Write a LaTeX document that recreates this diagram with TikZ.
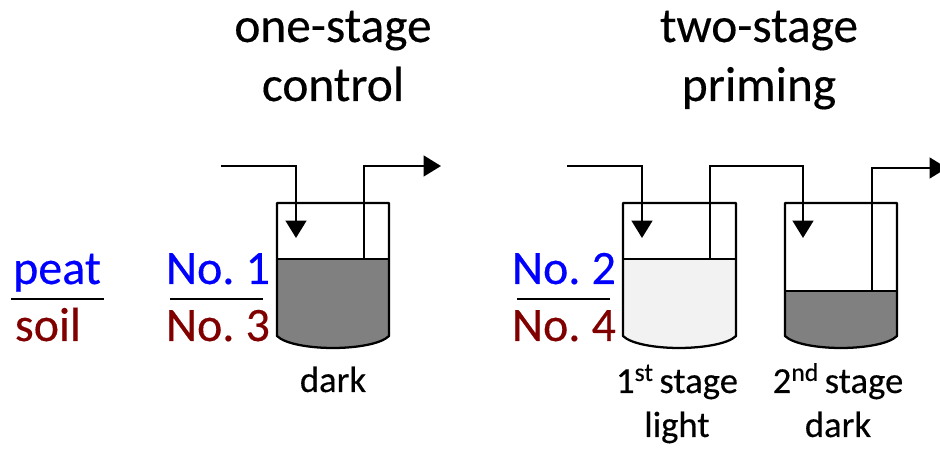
\documentclass[tikz,border=0pt]{standalone}
\usepackage{fontspec}
\setmainfont{Carlito}[UprightFeatures={FakeBold=0.3},WordSpace=0.7]
\usetikzlibrary{arrows.meta}
\definecolor{soilred}{RGB}{128,0,0}
\definecolor{liquidgray}{RGB}{128,128,128}
\definecolor{liquidpale}{RGB}{242,242,242}
\tikzset{
  titletext/.style={anchor=base, font=\fontsize{37}{44}\selectfont},
  sampletext/.style={anchor=base, font=\fontsize{36}{42}\selectfont},
  captiontext/.style={anchor=base, font=\fontsize{27.5}{33}\selectfont},
  vessel/.style={draw=black, line width=1.7pt, line join=round},
  fracline/.style={draw=black, line width=0.9pt},
  pipe/.style={draw=black, line width=1.7pt},
  flow/.style={pipe, -{Triangle[length=13pt, width=15.5pt]}}
}
\begin{document}
\begin{tikzpicture}[x=0.75pt, y=-0.75pt]
\useasboundingbox (0,0) rectangle (940,452);
\clip (0,0) rectangle (940,452);
% titles
\node[titletext] (title1a) at (333,42) {one-stage};
\node[titletext] (title1b) at (333,101) {control};
\node[titletext] (title2a) at (759,42) {two-stage};
\node[titletext] (title2b) at (759,101) {priming};
% peat / soil
\node[sampletext, blue] (peat) at (57,284) {peat};
\node[sampletext, soilred] (soil) at (48,341) {soil};
\coordinate (peatL) at (11,299);
\coordinate (peatR) at (104,299);
\draw[fracline] (peatL) -- (peatR);
% sample numbers
\node[sampletext, blue] (no1) at (218,284) {No. 1};
\node[sampletext, soilred] (no3) at (218,341) {No. 3};
\coordinate (no1L) at (170,299);
\coordinate (no1R) at (263,299);
\draw[fracline] (no1L) -- (no1R);
\node[sampletext, blue] (no2) at (564,284) {No. 2};
\node[sampletext, soilred] (no4) at (564,341) {No. 4};
\coordinate (no2L) at (517,299);
\coordinate (no2R) at (610,299);
\draw[fracline] (no2L) -- (no2R);
% control vessel
\fill[liquidgray] (277,259) -- (277,336) .. controls (285,344) and (310,348) .. (333,348) .. controls (356,348) and (381,344) .. (389,336) -- (389,259) -- cycle;
\draw[vessel] (277,259) -- (389,259);
\draw[vessel] (277,203) -- (277,336) .. controls (285,344) and (310,348) .. (333,348) .. controls (356,348) and (381,344) .. (389,336) -- (389,203) -- cycle;
\coordinate (inA) at (221,166);
\coordinate (inAb) at (296,166);
\coordinate (inAe) at (296,238);
\coordinate (outA) at (364,259);
\coordinate (outAb) at (364,166);
\coordinate (outAe) at (441,166);
\draw[flow] (inA) -- (inAb) -- (inAe);
\draw[flow] (outA) -- (outAb) -- (outAe);
% 1st stage vessel
\fill[liquidpale] (623,259) -- (623,336) .. controls (631,344) and (656,348) .. (679,348) .. controls (702,348) and (728,344) .. (736,336) -- (736,259) -- cycle;
\draw[vessel] (623,259) -- (736,259);
\draw[vessel] (623,203) -- (623,336) .. controls (631,344) and (656,348) .. (679,348) .. controls (702,348) and (728,344) .. (736,336) -- (736,203) -- cycle;
% 2nd stage vessel
\fill[liquidgray] (785,291) -- (785,336) .. controls (793,344) and (818,348) .. (841,348) .. controls (864,348) and (889,344) .. (897,336) -- (897,291) -- cycle;
\draw[vessel] (785,291) -- (897,291);
\draw[vessel] (785,203) -- (785,336) .. controls (793,344) and (818,348) .. (841,348) .. controls (864,348) and (889,344) .. (897,336) -- (897,203) -- cycle;
\coordinate (inB) at (567,166);
\coordinate (inBb) at (642,166);
\coordinate (inBe) at (642,238);
\coordinate (linkB) at (710,259);
\coordinate (linkBa) at (710,166);
\coordinate (linkBb) at (803,166);
\coordinate (linkBe) at (803,238);
\coordinate (outC) at (872,291);
\coordinate (outCb) at (872,168);
\coordinate (outCe) at (947,168);
\draw[flow] (inB) -- (inBb) -- (inBe);
\draw[flow] (linkB) -- (linkBa) -- (linkBb) -- (linkBe);
\draw[flow] (outC) -- (outCb) -- (outCe);
% captions
\node[captiontext] (darkA) at (333,392) {dark};
\node[captiontext] (stage1) at (677,393) {1\textsuperscript{st} stage};
\node[captiontext] (light) at (677,437) {light};
\node[captiontext] (stage2) at (838,393) {2\textsuperscript{nd} stage};
\node[captiontext] (darkB) at (838,437) {dark};
\end{tikzpicture}
\end{document}
